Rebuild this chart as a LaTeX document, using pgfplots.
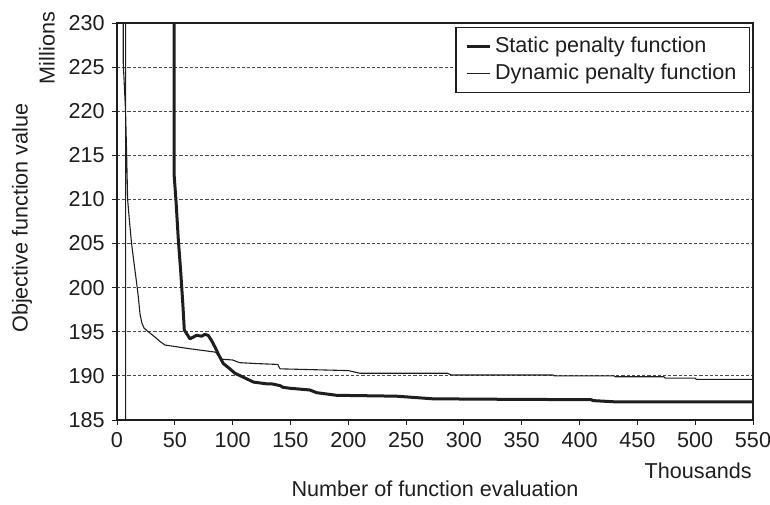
\documentclass[border=0pt]{standalone}
\usepackage{fontspec}
\setmainfont{Liberation Sans}
\usepackage{pgfplots}
\pgfplotsset{compat=1.18}
\newcommand{\chfont}{\fontsize{10.8}{12.6}\selectfont}
\definecolor{ink}{HTML}{1E1E1E}
\definecolor{gridc}{HTML}{4A4A4A}

\begin{document}
\begin{tikzpicture}[font=\chfont, color=ink]
\path[use as bounding box] (0,0) rectangle (385pt,252pt);
\begin{axis}[
  at={(58.5pt,42pt)}, anchor=south west,
  scale only axis, width=318pt, height=198.5pt,
  xmin=0, xmax=550, ymin=185, ymax=230,
  xtick={0,50,...,550}, ytick={185,190,...,230},
  xtick pos=left, ytick pos=left,
  tick align=outside, major tick length=2.6pt,
  tick style={ink, line width=0.5pt},
  axis line style={ink, line width=0.55pt},
  tick label style={font=\chfont, text=ink},
  /pgf/number format/assume math mode=true,
  ymajorgrids, major grid style={gridc, dash pattern=on 1.6pt off 1pt, line width=0.45pt},
  clip=true,
  legend cell align=left,
  legend style={at={(1,1)}, anchor=north east, xshift=-1.5pt, yshift=-2pt,
    draw=ink, line width=0.6pt, font=\chfont, fill=white,
    inner xsep=4.5pt, inner ysep=2.8pt, row sep=0pt},
  legend image code/.code={\draw[#1] (0pt,0pt) -- (11.5pt,0pt);},
]
% static penalty function (thick)
\addplot[ink, line width=1.5pt, line join=round] coordinates {
 (49.5,260) (49.5,212.6) (51,209.9) (53,205.5) (55,202) (56,200) (57,198)
 (58.2,195.2) (60.2,194.8) (63.1,194.2) (66,194.4) (68.8,194.6) (73.1,194.5)
 (76,194.7) (78.8,194.6) (81.8,194.0) (85,193.2) (87.5,192.5) (91.9,191.4)
 (97.6,190.8) (102,190.3) (110,189.8) (118,189.3) (129.3,189.1) (133.7,189.1)
 (140.9,188.9) (143.7,188.7) (149.5,188.6) (166.8,188.4) (172.5,188.1)
 (189.8,187.8) (241.6,187.7) (273.3,187.4) (331,187.35) (410,187.3)
 (411.5,187.2) (431.8,187.05) (550,187.05)
};
\addlegendentry{Static penalty function}
% dynamic penalty function (thin)
\addplot[ink, line width=0.55pt] coordinates {
 (7.4,150) (7.4,300) (5.4,300) (5.4,225.5) (7.4,220) (8.3,215.3) (9.2,210)
 (10.8,207.5) (12.6,205) (15,202.5) (17,200.5) (18.4,199) (19.9,197)
 (21.5,196) (23.5,195.4) (27.1,195) (32.8,194.4) (37.2,193.9) (41.5,193.5)
 (51.6,193.3) (61.6,193.1) (73.2,192.9) (84.7,192.7) (86,192.6) (88,192.2)
 (90,191.9) (100,191.8) (106,191.5) (120,191.4) (139,191.3) (141,190.8)
 (200,190.6) (210,190.3) (286,190.3) (289,190.1) (377,190.1) (378,190.0)
 (430,190.0) (431,189.9) (473,189.9) (474,189.75) (500,189.75) (501,189.6)
 (550,189.6)
};
\addlegendentry{Dynamic penalty function}
\end{axis}
\node[rotate=90] at (23.5pt,228pt) {Millions};
\node[rotate=90] at (11pt,143pt) {Objective function value};
\node at (217.5pt,7.5pt) {Number of function evaluation};
\node[anchor=east, inner sep=0pt] at (376pt,16.5pt) {Thousands};
\end{tikzpicture}
\end{document}
